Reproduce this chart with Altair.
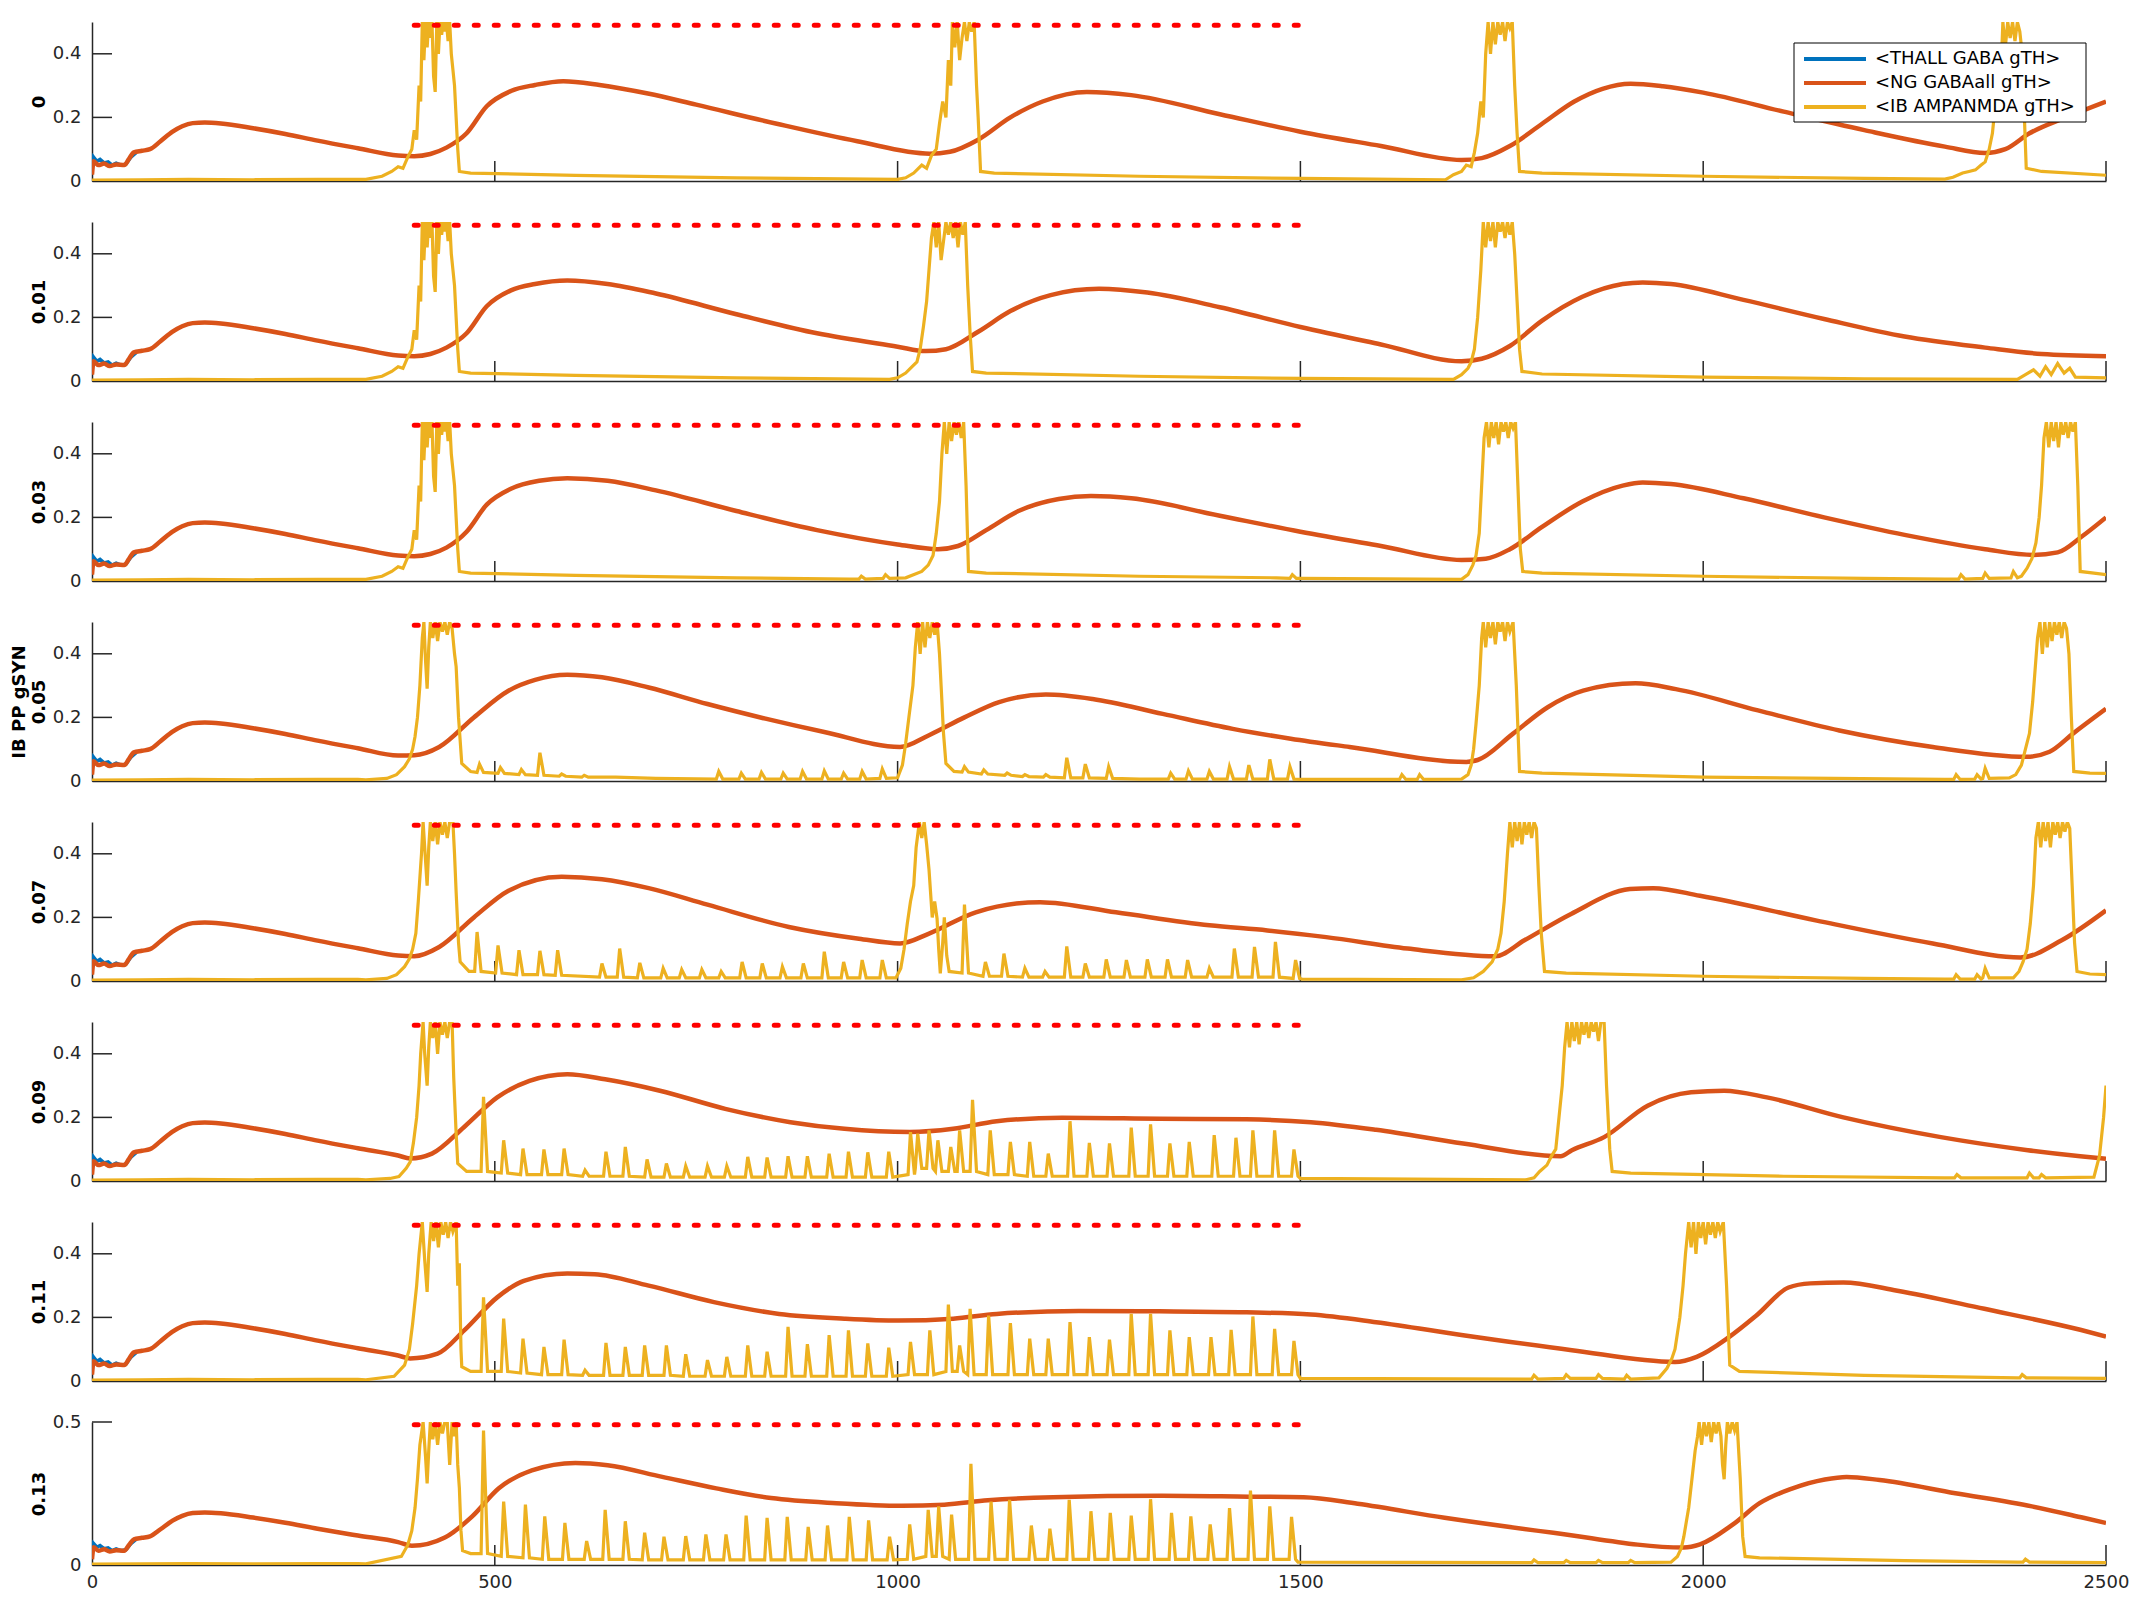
import altair as alt
import pandas as pd

# ---------------- data ----------------
PANEL_LABELS = ["0", "0.01", "0.03", "0.05", "0.07", "0.09", "0.11", "0.13"]
Y_AXIS_TITLE = "IB PP gSYN"
SERIES = ["<THALL GABA gTH>", "<NG GABAall gTH>", "<IB AMPANMDA gTH>"]
COLORS = ["#0072BD", "#D95319", "#EDB120"]
X_TICKS = [0, 500, 1000, 1500, 2000, 2500]
Y_TICKS = [0, 0.2, 0.4]
Y_TICKS_LAST = [0, 0.5]
STIM = {"x": [400], "x2": [1500], "y": [0.49]}

BLUE_START = [(0, 0.03), (2, 0.075), (6, 0.062), (10, 0.068), (15, 0.057), (20, 0.06),
              (25, 0.05), (30, 0.056), (36, 0.05), (42, 0.053), (48, 0.074), (55, 0.09)]

ORANGE_START = [(0, 0.02), (2, 0.062), (8, 0.05), (15, 0.055), (22, 0.047), (30, 0.052),
                (40, 0.05), (46, 0.07), (52, 0.09), (62, 0.095), (72, 0.1), (85, 0.125),
                (100, 0.155), (112, 0.172), (125, 0.182), (140, 0.184), (160, 0.181),
                (200, 0.166), (240, 0.148), (280, 0.127), (330, 0.103), (380, 0.08)]

YELLOW_START = [(0, 0.003), (60, 0.004), (120, 0.005), (200, 0.004), (280, 0.005), (330, 0.005)]

BURST_A = [(340, 0.005), (360, 0.015), (372, 0.03), (380, 0.045), (386, 0.04), (392, 0.075),
           (397, 0.1), (400, 0.16), (403, 0.13), (406, 0.3), (408, 0.25), (410, 0.5),
           (412, 0.38), (414, 0.5), (416, 0.42), (418, 0.5), (420, 0.45), (422, 0.5),
           (424, 0.33), (426, 0.28), (428, 0.5), (430, 0.4), (432, 0.5), (434, 0.46),
           (436, 0.5), (438, 0.47), (440, 0.5), (442, 0.44), (444, 0.5), (446, 0.4),
           (448, 0.35), (450, 0.3), (452, 0.2), (454, 0.1), (456, 0.03)]

# ---- panel 0 ----
ORANGE_0 = [(400, 0.078), (420, 0.085), (440, 0.105), (465, 0.15), (490, 0.235), (520, 0.283),
            (550, 0.302), (585, 0.314), (630, 0.302), (690, 0.275), (750, 0.24), (850, 0.18),
            (950, 0.125), (1040, 0.086), (1065, 0.092), (1100, 0.13), (1140, 0.2), (1180, 0.25),
            (1235, 0.28), (1290, 0.27), (1400, 0.21), (1500, 0.155), (1600, 0.11), (1700, 0.066),
            (1725, 0.072), (1760, 0.11), (1800, 0.18), (1840, 0.25), (1875, 0.29), (1910, 0.306),
            (1950, 0.298), (2000, 0.278), (2100, 0.218), (2200, 0.16), (2300, 0.108),
            (2350, 0.088), (2375, 0.1), (2405, 0.15), (2450, 0.2), (2500, 0.25)]
YELLOW_0 = [(470, 0.025), (600, 0.018), (800, 0.01),
            (1000, 0.005), (1010, 0.01), (1020, 0.025), (1030, 0.05), (1036, 0.04), (1042, 0.08),
            (1048, 0.1), (1052, 0.18), (1056, 0.25), (1060, 0.2), (1063, 0.38), (1066, 0.3),
            (1068, 0.5), (1071, 0.42), (1074, 0.5), (1077, 0.38), (1080, 0.45), (1083, 0.5),
            (1086, 0.44), (1089, 0.5), (1092, 0.47), (1095, 0.5), (1098, 0.3), (1100, 0.2),
            (1103, 0.03), (1120, 0.025), (1300, 0.015), (1500, 0.008),
            (1680, 0.004), (1690, 0.02), (1700, 0.03), (1706, 0.05), (1712, 0.045), (1716, 0.09),
            (1720, 0.15), (1724, 0.25), (1727, 0.2), (1730, 0.4), (1733, 0.5), (1736, 0.4),
            (1739, 0.5), (1742, 0.43), (1745, 0.5), (1748, 0.46), (1751, 0.5), (1754, 0.44),
            (1757, 0.5), (1760, 0.48), (1763, 0.5), (1766, 0.3), (1769, 0.15), (1772, 0.03),
            (1800, 0.025), (2000, 0.015), (2200, 0.008),
            (2300, 0.006), (2310, 0.012), (2322, 0.025), (2330, 0.03), (2338, 0.035),
            (2345, 0.05), (2350, 0.06), (2355, 0.1), (2359, 0.15), (2363, 0.25), (2366, 0.35),
            (2369, 0.3), (2372, 0.5), (2375, 0.42), (2378, 0.5), (2381, 0.45), (2384, 0.5),
            (2387, 0.44), (2390, 0.5), (2393, 0.47), (2396, 0.4), (2398, 0.25), (2401, 0.04),
            (2420, 0.03), (2500, 0.018)]
SPIKES_0 = []

# ---- panel 1 ----
ORANGE_1 = [(400, 0.078), (420, 0.085), (440, 0.105), (465, 0.15), (490, 0.235), (520, 0.285),
            (550, 0.305), (590, 0.316), (640, 0.305), (700, 0.275), (800, 0.21), (900, 0.15),
            (1000, 0.108), (1035, 0.094), (1060, 0.1), (1100, 0.155), (1140, 0.22), (1190, 0.27),
            (1250, 0.29), (1310, 0.278), (1400, 0.232), (1500, 0.17), (1600, 0.115), (1700, 0.062),
            (1725, 0.07), (1760, 0.11), (1800, 0.19), (1850, 0.265), (1900, 0.305), (1925, 0.31),
            (1960, 0.305), (2050, 0.255), (2150, 0.195), (2250, 0.14), (2350, 0.105),
            (2420, 0.085), (2500, 0.078)]
YELLOW_1 = [(470, 0.025), (600, 0.018), (800, 0.01),
            (990, 0.005), (1000, 0.01), (1010, 0.025), (1018, 0.045), (1024, 0.06), (1028, 0.1),
            (1032, 0.17), (1036, 0.25), (1039, 0.35), (1042, 0.45), (1045, 0.5), (1048, 0.42),
            (1051, 0.5), (1054, 0.38), (1057, 0.44), (1060, 0.5), (1063, 0.46), (1066, 0.5),
            (1069, 0.45), (1072, 0.5), (1075, 0.42), (1078, 0.5), (1081, 0.46), (1084, 0.5),
            (1087, 0.3), (1090, 0.15), (1093, 0.03), (1110, 0.025), (1300, 0.015), (1500, 0.008),
            (1690, 0.005), (1700, 0.02), (1708, 0.04), (1712, 0.06), (1716, 0.1), (1720, 0.2),
            (1724, 0.35), (1727, 0.5), (1730, 0.42), (1733, 0.5), (1736, 0.44), (1739, 0.5),
            (1742, 0.42), (1745, 0.5), (1748, 0.47), (1751, 0.5), (1754, 0.45), (1757, 0.5),
            (1760, 0.46), (1763, 0.5), (1766, 0.4), (1769, 0.25), (1772, 0.1), (1775, 0.03),
            (1800, 0.022), (2000, 0.012), (2200, 0.007), (2390, 0.005), (2400, 0.02),
            (2410, 0.035), (2418, 0.015), (2425, 0.045), (2432, 0.02), (2440, 0.055),
            (2448, 0.025), (2455, 0.04), (2462, 0.012), (2500, 0.01)]
SPIKES_1 = []

# ---- panel 2 ----
ORANGE_2 = [(400, 0.078), (420, 0.085), (440, 0.105), (465, 0.155), (490, 0.24), (520, 0.29),
            (555, 0.315), (590, 0.323), (640, 0.315), (700, 0.285), (800, 0.22), (900, 0.16),
            (1000, 0.115), (1050, 0.1), (1075, 0.11), (1110, 0.16), (1150, 0.22), (1200, 0.258),
            (1240, 0.267), (1290, 0.26), (1400, 0.205), (1500, 0.155), (1600, 0.11), (1700, 0.066),
            (1730, 0.07), (1760, 0.1), (1800, 0.17), (1850, 0.25), (1900, 0.3), (1925, 0.31),
            (1960, 0.305), (2050, 0.26), (2150, 0.2), (2250, 0.145), (2350, 0.1), (2410, 0.082),
            (2440, 0.09), (2470, 0.14), (2500, 0.2)]
YELLOW_2 = [(470, 0.025), (600, 0.018), (800, 0.01), (940, 0.006), (1010, 0.01),
            (1030, 0.03), (1038, 0.05), (1044, 0.08), (1048, 0.15), (1052, 0.25), (1055, 0.4),
            (1058, 0.5), (1061, 0.4), (1064, 0.5), (1067, 0.44), (1070, 0.5), (1073, 0.46),
            (1076, 0.5), (1079, 0.45), (1082, 0.5), (1085, 0.3), (1088, 0.03), (1110, 0.025),
            (1300, 0.015), (1470, 0.01), (1500, 0.008),
            (1700, 0.005), (1708, 0.02), (1714, 0.05), (1718, 0.08), (1722, 0.15), (1725, 0.3),
            (1728, 0.45), (1731, 0.5), (1734, 0.42), (1737, 0.5), (1740, 0.45), (1743, 0.5),
            (1746, 0.43), (1749, 0.5), (1752, 0.47), (1755, 0.5), (1758, 0.45), (1761, 0.5),
            (1764, 0.48), (1767, 0.5), (1770, 0.3), (1773, 0.1), (1776, 0.03), (1800, 0.025),
            (2000, 0.015), (2200, 0.008), (2300, 0.006),
            (2395, 0.015), (2402, 0.04), (2408, 0.07), (2413, 0.12), (2417, 0.2), (2420, 0.3),
            (2423, 0.45), (2426, 0.5), (2429, 0.42), (2432, 0.5), (2435, 0.44), (2438, 0.5),
            (2441, 0.42), (2444, 0.5), (2447, 0.46), (2450, 0.5), (2453, 0.45), (2456, 0.5),
            (2459, 0.47), (2462, 0.5), (2465, 0.3), (2468, 0.03), (2485, 0.025), (2500, 0.02)]
# spikes: (position, peak, local baseline)
SPIKES_2 = [(955, 0.015, 0.006), (985, 0.02, 0.008), (1490, 0.02, 0.008),
            (2320, 0.02, 0.006), (2350, 0.025, 0.008), (2385, 0.03, 0.01)]

# ---- panel 3 ----
ORANGE_3 = [(400, 0.081), (431, 0.107), (474, 0.2), (517, 0.284), (550, 0.318), (590, 0.334),
            (633, 0.326), (691, 0.294), (764, 0.242), (836, 0.196), (909, 0.154), (1003, 0.107),
            (1039, 0.144), (1083, 0.2), (1126, 0.248), (1184, 0.272), (1242, 0.258),
            (1329, 0.211), (1416, 0.164), (1488, 0.133), (1561, 0.107), (1706, 0.06),
            (1720, 0.066), (1764, 0.149), (1807, 0.232), (1851, 0.284), (1916, 0.307),
            (1966, 0.289), (2068, 0.222), (2169, 0.159), (2285, 0.107), (2401, 0.076),
            (2430, 0.092), (2459, 0.149), (2500, 0.227)]
YELLOW_3 = [(340, 0.004), (366, 0.008), (378, 0.02), (388, 0.045), (394, 0.07), (398, 0.1),
            (401, 0.14), (404, 0.2), (407, 0.3), (410, 0.45), (412, 0.5), (414, 0.38),
            (416, 0.29), (418, 0.42), (420, 0.5), (423, 0.45), (426, 0.5), (429, 0.44),
            (432, 0.5), (435, 0.47), (438, 0.5), (441, 0.46), (444, 0.5), (447, 0.48),
            (450, 0.4), (452, 0.36), (455, 0.2), (459, 0.055), (470, 0.03),
            (650, 0.012), (700, 0.008),
            (1000, 0.01), (1006, 0.05), (1010, 0.118), (1014, 0.2), (1019, 0.3), (1022, 0.42),
            (1025, 0.5), (1028, 0.4), (1031, 0.5), (1034, 0.42), (1037, 0.5), (1040, 0.45),
            (1043, 0.5), (1046, 0.46), (1049, 0.5), (1052, 0.4), (1054, 0.3), (1057, 0.15),
            (1060, 0.055), (1070, 0.03), (1300, 0.006), (1500, 0.005), (1600, 0.005),
            (1700, 0.006), (1708, 0.02), (1712, 0.05), (1715, 0.1), (1718, 0.18), (1722, 0.3),
            (1725, 0.45), (1727, 0.5), (1730, 0.42), (1733, 0.5), (1736, 0.45), (1739, 0.5),
            (1742, 0.43), (1745, 0.5), (1748, 0.47), (1751, 0.5), (1754, 0.44), (1757, 0.5),
            (1760, 0.47), (1764, 0.5), (1768, 0.3), (1772, 0.03), (1800, 0.025), (2000, 0.012),
            (2300, 0.005),
            (2380, 0.01), (2388, 0.02), (2395, 0.05), (2400, 0.1), (2405, 0.15), (2409, 0.25),
            (2412, 0.35), (2415, 0.45), (2418, 0.5), (2421, 0.4), (2424, 0.5), (2427, 0.42),
            (2430, 0.5), (2433, 0.44), (2436, 0.5), (2439, 0.46), (2442, 0.5), (2445, 0.45),
            (2448, 0.5), (2451, 0.48), (2454, 0.4), (2457, 0.2), (2460, 0.03), (2480, 0.025),
            (2500, 0.024)]
SPIKES_3 = [(481, 0.053, 0.027), (507, 0.042, 0.024), (533, 0.036, 0.02), (556, 0.089, 0.018),
            (583, 0.022, 0.015), (611, 0.018, 0.012), (778, 0.03, 0.006), (806, 0.025, 0.006),
            (831, 0.027, 0.006), (858, 0.025, 0.006), (882, 0.03, 0.006), (909, 0.032, 0.006),
            (933, 0.025, 0.006), (956, 0.03, 0.006), (981, 0.038, 0.008),
            (1083, 0.045, 0.028), (1107, 0.035, 0.022), (1136, 0.025, 0.018), (1158, 0.02, 0.014),
            (1184, 0.02, 0.012), (1210, 0.073, 0.01), (1233, 0.053, 0.01), (1262, 0.045, 0.008),
            (1339, 0.025, 0.006), (1361, 0.032, 0.006), (1387, 0.03, 0.006), (1412, 0.045, 0.006),
            (1436, 0.05, 0.006), (1462, 0.068, 0.006), (1487, 0.045, 0.006),
            (1626, 0.02, 0.005), (1648, 0.02, 0.005),
            (2314, 0.02, 0.005), (2340, 0.02, 0.006), (2350, 0.04, 0.008)]

# ---- panel 4 ----
ORANGE_4 = [(400, 0.078), (431, 0.107), (474, 0.2), (517, 0.284), (583, 0.328), (633, 0.32),
            (691, 0.292), (764, 0.24), (865, 0.17), (952, 0.133), (1003, 0.118), (1039, 0.149),
            (1097, 0.216), (1177, 0.248), (1271, 0.216), (1387, 0.175), (1459, 0.159),
            (1532, 0.138), (1633, 0.102), (1742, 0.078), (1778, 0.128), (1836, 0.211),
            (1909, 0.289), (1938, 0.292), (1996, 0.268), (2141, 0.19), (2285, 0.118),
            (2394, 0.074), (2445, 0.128), (2500, 0.222)]
YELLOW_4 = [(340, 0.004), (366, 0.008), (378, 0.02), (388, 0.045), (394, 0.07), (398, 0.1),
            (402, 0.15), (405, 0.25), (409, 0.4), (411, 0.5), (414, 0.38), (416, 0.3),
            (418, 0.42), (420, 0.5), (423, 0.44), (426, 0.5), (429, 0.43), (432, 0.5),
            (435, 0.46), (438, 0.5), (441, 0.45), (444, 0.5), (448, 0.5), (450, 0.4),
            (452, 0.28), (455, 0.12), (457, 0.06), (468, 0.03),
            (998, 0.01), (1004, 0.04), (1008, 0.1), (1012, 0.18), (1016, 0.25), (1020, 0.3),
            (1023, 0.42), (1027, 0.5), (1030, 0.45), (1033, 0.5), (1036, 0.43), (1039, 0.35),
            (1043, 0.2), (1046, 0.25), (1049, 0.196), (1051, 0.1), (1053, 0.024), (1056, 0.12),
            (1058, 0.2), (1061, 0.08), (1064, 0.03),
            (1502, 0.006), (1700, 0.004),
            (1715, 0.01), (1727, 0.03), (1738, 0.06), (1745, 0.1), (1749, 0.15), (1753, 0.25),
            (1757, 0.4), (1760, 0.5), (1763, 0.42), (1766, 0.5), (1769, 0.44), (1772, 0.5),
            (1775, 0.43), (1778, 0.5), (1781, 0.46), (1784, 0.5), (1787, 0.45), (1790, 0.5),
            (1793, 0.48), (1796, 0.3), (1799, 0.15), (1803, 0.03), (1830, 0.025), (2000, 0.015),
            (2200, 0.008), (2300, 0.006),
            (2385, 0.01), (2392, 0.03), (2397, 0.06), (2402, 0.1), (2406, 0.18), (2410, 0.3),
            (2413, 0.45), (2416, 0.5), (2419, 0.42), (2422, 0.5), (2425, 0.44), (2428, 0.5),
            (2431, 0.42), (2434, 0.5), (2437, 0.46), (2440, 0.5), (2443, 0.45), (2446, 0.5),
            (2449, 0.47), (2452, 0.5), (2455, 0.48), (2458, 0.3), (2461, 0.12), (2464, 0.03),
            (2480, 0.022), (2500, 0.02)]
SPIKES_4 = [(478, 0.154, 0.03), (504, 0.112, 0.025), (530, 0.097, 0.02), (556, 0.095, 0.02),
            (578, 0.097, 0.018), (633, 0.055, 0.012), (655, 0.102, 0.012), (680, 0.057, 0.01),
            (709, 0.04, 0.01), (732, 0.036, 0.01), (757, 0.036, 0.01), (781, 0.03, 0.01),
            (807, 0.06, 0.01), (832, 0.055, 0.01), (857, 0.045, 0.01), (883, 0.055, 0.01),
            (909, 0.092, 0.01), (933, 0.06, 0.01), (956, 0.066, 0.01), (981, 0.066, 0.01),
            (1083, 0.24, 0.025), (1109, 0.06, 0.015), (1132, 0.086, 0.015), (1158, 0.04, 0.012),
            (1183, 0.03, 0.012), (1210, 0.109, 0.012), (1233, 0.055, 0.012), (1259, 0.068, 0.012),
            (1284, 0.066, 0.012), (1310, 0.068, 0.012), (1335, 0.068, 0.012), (1360, 0.066, 0.012),
            (1387, 0.04, 0.012), (1418, 0.102, 0.012), (1443, 0.107, 0.012), (1469, 0.123, 0.012),
            (1494, 0.066, 0.008),
            (2314, 0.02, 0.006), (2340, 0.02, 0.006), (2350, 0.04, 0.01)]

# ---- panel 5 ----
ORANGE_5 = [(395, 0.071), (422, 0.086), (462, 0.17), (503, 0.263), (543, 0.315), (590, 0.336),
            (637, 0.32), (705, 0.284), (786, 0.227), (867, 0.185), (934, 0.164), (1015, 0.154),
            (1069, 0.164), (1123, 0.188), (1204, 0.199), (1325, 0.196), (1433, 0.194),
            (1513, 0.185), (1594, 0.161), (1702, 0.118), (1823, 0.078), (1837, 0.097),
            (1877, 0.138), (1931, 0.237), (1985, 0.279), (2026, 0.284), (2079, 0.263),
            (2174, 0.2), (2295, 0.138), (2403, 0.097), (2468, 0.078), (2500, 0.07)]
YELLOW_5 = [(340, 0.004), (370, 0.008), (381, 0.014), (390, 0.04), (395, 0.06), (399, 0.12),
            (403, 0.2), (406, 0.3), (408, 0.4), (411, 0.5), (413, 0.4), (416, 0.3), (418, 0.42),
            (420, 0.5), (423, 0.45), (426, 0.5), (429, 0.4), (432, 0.5), (435, 0.46), (438, 0.5),
            (441, 0.45), (444, 0.5), (447, 0.5), (449, 0.326), (452, 0.15), (454, 0.055),
            (465, 0.03),
            (1500, 0.008), (1780, 0.004),
            (1790, 0.01), (1797, 0.03), (1806, 0.05), (1812, 0.08), (1817, 0.1), (1821, 0.2),
            (1825, 0.3), (1828, 0.42), (1831, 0.5), (1834, 0.42), (1837, 0.5), (1840, 0.44),
            (1843, 0.5), (1846, 0.43), (1849, 0.5), (1852, 0.46), (1855, 0.5), (1858, 0.45),
            (1861, 0.5), (1864, 0.47), (1867, 0.5), (1870, 0.44), (1873, 0.5), (1877, 0.5),
            (1880, 0.3), (1884, 0.1), (1887, 0.03), (1910, 0.025), (2100, 0.015), (2300, 0.01),
            (2485, 0.012), (2492, 0.08), (2497, 0.2), (2500, 0.3)]
SPIKES_5 = [(486, 0.265, 0.03), (511, 0.128, 0.025), (535, 0.102, 0.02), (561, 0.099, 0.02),
            (586, 0.102, 0.02), (612, 0.034, 0.015), (638, 0.092, 0.015), (662, 0.107, 0.015),
            (689, 0.068, 0.012), (713, 0.055, 0.012), (737, 0.047, 0.012), (764, 0.047, 0.012),
            (788, 0.047, 0.012), (814, 0.076, 0.012), (838, 0.074, 0.012), (864, 0.078, 0.012),
            (888, 0.078, 0.012), (915, 0.086, 0.012), (939, 0.092, 0.012), (963, 0.09, 0.012),
            (989, 0.092, 0.012), (1016, 0.154, 0.02), (1025, 0.149, 0.04), (1039, 0.159, 0.04),
            (1050, 0.128, 0.03), (1066, 0.107, 0.03), (1077, 0.159, 0.03), (1093, 0.255, 0.03),
            (1115, 0.159, 0.02), (1140, 0.123, 0.02), (1164, 0.123, 0.015), (1187, 0.086, 0.015),
            (1214, 0.188, 0.015), (1238, 0.12, 0.015), (1263, 0.118, 0.015), (1290, 0.168, 0.015),
            (1314, 0.178, 0.015), (1338, 0.118, 0.015), (1362, 0.123, 0.015), (1393, 0.144, 0.015),
            (1420, 0.136, 0.015), (1441, 0.159, 0.015), (1468, 0.159, 0.015), (1492, 0.099, 0.015),
            (2315, 0.02, 0.01), (2405, 0.025, 0.01), (2420, 0.02, 0.01)]

# ---- panel 6 ----
ORANGE_6 = [(395, 0.071), (429, 0.086), (462, 0.159), (503, 0.263), (536, 0.315), (590, 0.338),
            (624, 0.336), (691, 0.3), (772, 0.248), (853, 0.211), (934, 0.196), (1001, 0.19),
            (1069, 0.196), (1123, 0.211), (1225, 0.22), (1325, 0.219), (1433, 0.216),
            (1513, 0.209), (1594, 0.185), (1702, 0.144), (1837, 0.097), (1965, 0.06),
            (1992, 0.076), (2032, 0.138), (2066, 0.206), (2106, 0.294), (2133, 0.307),
            (2174, 0.31), (2241, 0.284), (2349, 0.227), (2468, 0.161), (2500, 0.14)]
YELLOW_6 = [(340, 0.004), (375, 0.015), (388, 0.05), (394, 0.1), (398, 0.18), (403, 0.3),
            (406, 0.4), (410, 0.5), (413, 0.38), (416, 0.28), (418, 0.4), (421, 0.5),
            (424, 0.44), (427, 0.5), (430, 0.42), (433, 0.5), (436, 0.46), (439, 0.5),
            (442, 0.45), (445, 0.5), (448, 0.47), (452, 0.5), (454, 0.3), (456, 0.37),
            (458, 0.1), (459, 0.045), (470, 0.03),
            (1500, 0.008), (1780, 0.006),
            (1945, 0.01), (1955, 0.04), (1961, 0.07), (1965, 0.1), (1968, 0.15), (1971, 0.2),
            (1975, 0.3), (1978, 0.4), (1982, 0.5), (1985, 0.42), (1988, 0.5), (1991, 0.4),
            (1994, 0.5), (1997, 0.45), (2000, 0.5), (2003, 0.43), (2006, 0.5), (2009, 0.46),
            (2012, 0.5), (2015, 0.45), (2018, 0.5), (2021, 0.47), (2025, 0.5), (2029, 0.3),
            (2033, 0.05), (2045, 0.03), (2200, 0.018), (2390, 0.01), (2500, 0.008)]
SPIKES_6 = [(486, 0.263, 0.03), (511, 0.196, 0.03), (535, 0.133, 0.025), (561, 0.107, 0.02),
            (586, 0.13, 0.02), (612, 0.034, 0.018), (638, 0.12, 0.018), (662, 0.107, 0.018),
            (686, 0.112, 0.018), (713, 0.112, 0.018), (737, 0.084, 0.015), (764, 0.066, 0.015),
            (788, 0.076, 0.015), (814, 0.112, 0.015), (838, 0.092, 0.015), (864, 0.17, 0.015),
            (888, 0.116, 0.015), (915, 0.144, 0.015), (939, 0.159, 0.015), (963, 0.118, 0.015),
            (989, 0.105, 0.015), (1016, 0.123, 0.02), (1040, 0.159, 0.02), (1063, 0.24, 0.03),
            (1077, 0.112, 0.03), (1090, 0.227, 0.02), (1113, 0.206, 0.02), (1140, 0.182, 0.02),
            (1164, 0.133, 0.02), (1187, 0.133, 0.02), (1214, 0.185, 0.02), (1238, 0.138, 0.02),
            (1263, 0.13, 0.02), (1290, 0.211, 0.02), (1314, 0.211, 0.02), (1338, 0.159, 0.02),
            (1362, 0.138, 0.02), (1389, 0.138, 0.02), (1414, 0.161, 0.02), (1441, 0.203, 0.02),
            (1468, 0.164, 0.02), (1492, 0.126, 0.02),
            (1790, 0.018, 0.006), (1830, 0.02, 0.008), (1870, 0.02, 0.008), (1905, 0.018, 0.006),
            (2396, 0.02, 0.01)]

# ---- panel 7 ----
ORANGE_7 = [(397, 0.067), (438, 0.096), (472, 0.17), (505, 0.268), (546, 0.331), (600, 0.357),
            (640, 0.349), (708, 0.308), (775, 0.268), (843, 0.234), (924, 0.216), (1005, 0.207),
            (1058, 0.211), (1112, 0.226), (1193, 0.237), (1328, 0.242), (1436, 0.239),
            (1504, 0.237), (1571, 0.214), (1679, 0.165), (1814, 0.113), (1976, 0.061),
            (1996, 0.072), (2037, 0.142), (2070, 0.216), (2111, 0.268), (2151, 0.299),
            (2178, 0.308), (2219, 0.297), (2313, 0.251), (2408, 0.205), (2472, 0.165),
            (2500, 0.147)]
YELLOW_7 = [(340, 0.004), (384, 0.03), (392, 0.07), (397, 0.12), (401, 0.2), (404, 0.3),
            (407, 0.42), (411, 0.5), (414, 0.38), (416, 0.285), (418, 0.4), (420, 0.5),
            (423, 0.44), (426, 0.5), (429, 0.42), (432, 0.5), (435, 0.46), (438, 0.5),
            (441, 0.5), (444, 0.35), (447, 0.5), (450, 0.45), (452, 0.5), (454, 0.35),
            (456, 0.27), (458, 0.12), (460, 0.05), (470, 0.04),
            (1497, 0.01), (1780, 0.008),
            (1960, 0.01), (1968, 0.03), (1973, 0.06), (1976, 0.1), (1979, 0.15), (1982, 0.2),
            (1986, 0.3), (1990, 0.4), (1993, 0.45), (1995, 0.5), (1998, 0.42), (2001, 0.5),
            (2004, 0.45), (2007, 0.5), (2010, 0.43), (2013, 0.5), (2016, 0.46), (2019, 0.5),
            (2022, 0.45), (2024, 0.35), (2026, 0.3), (2028, 0.42), (2030, 0.5), (2033, 0.46),
            (2036, 0.5), (2039, 0.47), (2042, 0.5), (2046, 0.3), (2049, 0.1), (2052, 0.03),
            (2070, 0.025), (2250, 0.015), (2390, 0.01), (2500, 0.008)]
SPIKES_7 = [(486, 0.47, 0.04), (511, 0.222, 0.03), (538, 0.211, 0.025), (562, 0.17, 0.02),
            (587, 0.147, 0.02), (614, 0.084, 0.02), (637, 0.193, 0.02), (662, 0.153, 0.02),
            (686, 0.113, 0.018), (710, 0.099, 0.018), (737, 0.101, 0.018), (762, 0.107, 0.018),
            (787, 0.107, 0.018), (812, 0.173, 0.018), (838, 0.165, 0.018), (863, 0.168, 0.018),
            (889, 0.133, 0.018), (913, 0.138, 0.018), (940, 0.168, 0.018), (964, 0.156, 0.018),
            (990, 0.099, 0.018), (1015, 0.142, 0.02), (1038, 0.193, 0.03), (1051, 0.205, 0.03),
            (1067, 0.176, 0.02), (1091, 0.354, 0.02), (1116, 0.222, 0.02), (1139, 0.228, 0.02),
            (1166, 0.138, 0.02), (1189, 0.127, 0.02), (1213, 0.228, 0.02), (1240, 0.188, 0.02),
            (1264, 0.182, 0.02), (1290, 0.173, 0.02), (1314, 0.23, 0.02), (1340, 0.182, 0.02),
            (1364, 0.17, 0.02), (1388, 0.142, 0.02), (1412, 0.199, 0.02), (1438, 0.26, 0.02),
            (1462, 0.205, 0.02), (1489, 0.168, 0.02),
            (1790, 0.018, 0.008), (1830, 0.016, 0.008), (1870, 0.016, 0.008), (1910, 0.016, 0.008),
            (2400, 0.02, 0.01)]

ORANGE_PANELS = [ORANGE_START + o for o in
                 [ORANGE_0, ORANGE_1, ORANGE_2, ORANGE_3, ORANGE_4, ORANGE_5, ORANGE_6, ORANGE_7]]
YELLOW_PARTS = [YELLOW_START + BURST_A + YELLOW_0, YELLOW_START + BURST_A + YELLOW_1,
                YELLOW_START + BURST_A + YELLOW_2, YELLOW_START + YELLOW_3,
                YELLOW_START + YELLOW_4, YELLOW_START + YELLOW_5,
                YELLOW_START + YELLOW_6, YELLOW_START + YELLOW_7]
SPIKE_PANELS = [SPIKES_0, SPIKES_1, SPIKES_2, SPIKES_3, SPIKES_4, SPIKES_5, SPIKES_6, SPIKES_7]

# ---------------- styling ----------------
W = 2014
H = 159
H_LAST = 143
AX = "#262626"
FONT = "DejaVu Sans"
FS = 18
TICK_LEN = 20
RISE, FALL = 3, 5   # drawn width of a spike's flanks (x units)


def yellow_frame(i):
    pts = list(YELLOW_PARTS[i])
    for x, peak, base in SPIKE_PANELS[i]:
        pts += [(x - RISE, base), (x, peak), (x + FALL, base)]
    pts.sort(key=lambda p: p[0])
    return pd.DataFrame(pts, columns=["x", "y"])


def frame(pairs):
    return pd.DataFrame(pairs, columns=["x", "y"])


def panel(i):
    last = i == len(PANEL_LABELS) - 1
    h = H_LAST if last else H
    yt = Y_TICKS_LAST if last else Y_TICKS
    xscale = alt.Scale(domain=[0, 2500], nice=False, zero=False)
    yscale = alt.Scale(domain=[0, 0.5], nice=False, zero=False)
    xaxis = alt.Axis(values=X_TICKS, labels=last, ticks=False, grid=False, title=None,
                     domainColor=AX, domainWidth=1.5, labelFont=FONT, labelFontSize=FS,
                     labelColor=AX, labelPadding=8, labelFlush=False, format="d")
    title = [Y_AXIS_TITLE, PANEL_LABELS[i]] if i == 3 else PANEL_LABELS[i]
    yaxis = alt.Axis(values=yt, ticks=False, grid=False, title=title,
                     domainColor=AX, domainWidth=1.5, labelFont=FONT, labelFontSize=FS,
                     labelColor=AX, labelPadding=11, labelFlush=False, format="~g",
                     titleFont=FONT, titleFontSize=FS, titleFontWeight="bold",
                     titleColor="black", titlePadding=4, titleLineHeight=20)
    X = alt.X("x:Q", scale=xscale, axis=xaxis)
    Y = alt.Y("y:Q", scale=yscale, axis=yaxis)

    blue = alt.Chart(frame(BLUE_START)).mark_line(
        color=COLORS[0], strokeWidth=3.5, clip=True).encode(x=X, y=Y)
    xticks = alt.Chart(pd.DataFrame({"x": X_TICKS[1:]})).mark_rule(
        color=AX, strokeWidth=1.5).encode(x=X, y=alt.value(h), y2=alt.value(h - TICK_LEN))
    yticks = alt.Chart(pd.DataFrame({"y": yt})).mark_rule(
        color=AX, strokeWidth=1.5).encode(y=Y, x=alt.value(0), x2=alt.value(TICK_LEN))
    orange = alt.Chart(frame(ORANGE_PANELS[i])).mark_line(
        color=COLORS[1], strokeWidth=4.5, clip=True, interpolate="monotone").encode(x=X, y=Y)
    yellow = alt.Chart(yellow_frame(i)).mark_line(
        color=COLORS[2], strokeWidth=3.2, clip=True).encode(x=X, y=Y)
    stim = alt.Chart(pd.DataFrame(STIM)).mark_rule(
        color="#FF0000", strokeWidth=5, strokeDash=[4, 16], strokeCap="round").encode(
        x=X, x2="x2:Q", y=Y)

    layers = [blue, xticks, yticks, orange, yellow, stim]

    if i == 0:
        one = pd.DataFrame({"a": [0]})
        lx0, lx1, ly0, ly1 = 1702, 1994, 21, 100
        layers.append(alt.Chart(one).mark_rect(fill="white", stroke="black",
                                               strokeWidth=1).encode(
            x=alt.value(lx0), x2=alt.value(lx1), y=alt.value(ly0), y2=alt.value(ly1)))
        for k, (name, col) in enumerate(zip(SERIES, COLORS)):
            ry = 37 + 24 * k
            layers.append(alt.Chart(one).mark_rule(color=col, strokeWidth=4).encode(
                x=alt.value(lx0 + 10), x2=alt.value(lx0 + 72), y=alt.value(ry)))
            layers.append(alt.Chart(one).mark_text(
                text=name, align="left", baseline="middle", font=FONT, fontSize=FS,
                color="black").encode(x=alt.value(lx0 + 81), y=alt.value(ry)))

    return alt.layer(*layers).properties(width=W, height=h)


chart = alt.vconcat(*[panel(i) for i in range(len(PANEL_LABELS))],
                    spacing=41, bounds="flush").properties(
    padding={"left": 10, "top": 22, "right": 0, "bottom": 0},
    background="white",
).configure_view(stroke=None)

chart.save("out.html", embed_options={"renderer": "svg", "actions": False})
